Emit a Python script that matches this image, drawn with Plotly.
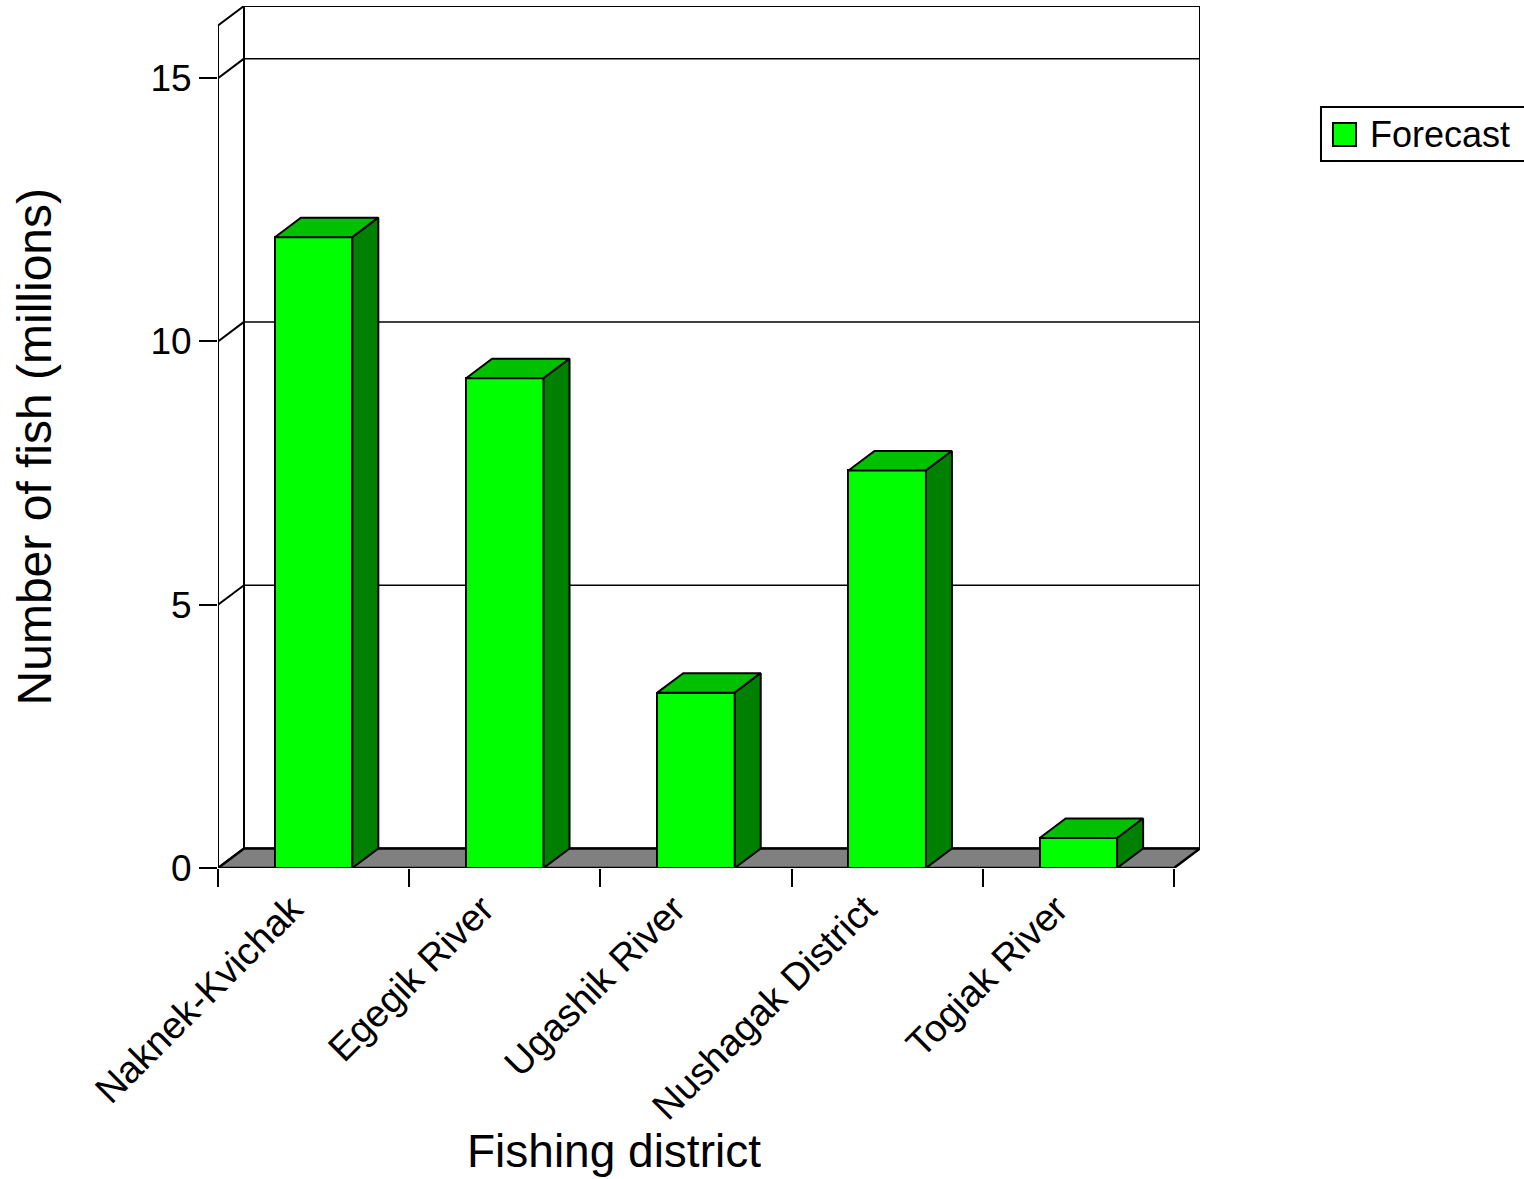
import plotly.graph_objects as go

# Forecast run sizes by Bristol Bay fishing district (millions of fish)
districts = ["Naknek-Kvichak", "Egegik River", "Ugashik River",
             "Nushagak District", "Togiak River"]
forecast = [11.98, 9.30, 3.33, 7.55, 0.57]
y_ticks = [0, 5, 10, 15]
series_name = "Forecast"

FONT = "Liberation Sans, Arial, sans-serif"
FRONT = "#00FF00"
TOP = "#00C000"
SIDE = "#008000"
FLOOR = "#808080"
EDGE = "black"

# pseudo-3D geometry in data units
n = len(districts)
bar_w = 0.405
dx = 0.136          # depth offset along x (category units)
dy = 0.371          # depth offset along y (value units)
y_top = 16.0
x_lo, x_hi = -0.5, n - 0.5

xs = list(range(n))

fig = go.Figure()

# front faces of the columns
fig.add_trace(go.Bar(
    x=xs, y=forecast, width=bar_w, base=0, name=series_name,
    marker=dict(color=FRONT, line=dict(color=EDGE, width=2)),
    showlegend=False, hoverinfo="x+y",
))

# top faces
tx, ty = [], []
for x, v in zip(xs, forecast):
    l, r = x - bar_w / 2, x + bar_w / 2
    tx += [l, r, r + dx, l + dx, l, None]
    ty += [v, v, v + dy, v + dy, v, None]
fig.add_trace(go.Scatter(
    x=tx, y=ty, mode="lines", fill="toself", fillcolor=TOP,
    line=dict(color=EDGE, width=2), showlegend=False, hoverinfo="skip",
))

# right-hand side faces
sx, sy = [], []
for x, v in zip(xs, forecast):
    r = x + bar_w / 2
    sx += [r, r, r + dx, r + dx, r, None]
    sy += [0, v, v + dy, dy, 0, None]
fig.add_trace(go.Scatter(
    x=sx, y=sy, mode="lines", fill="toself", fillcolor=SIDE,
    line=dict(color=EDGE, width=2), showlegend=False, hoverinfo="skip",
))

# walls, floor and gridlines behind the columns
def poly(pts):
    return "M " + " L ".join(f"{px},{py}" for px, py in pts) + " Z"

shapes = [
    # back wall
    dict(type="path", xref="x", yref="y", layer="below",
         path=poly([(x_lo + dx, dy), (x_hi + dx, dy),
                    (x_hi + dx, y_top + dy), (x_lo + dx, y_top + dy)]),
         fillcolor="white", line=dict(color=EDGE, width=2)),
    # side wall
    dict(type="path", xref="x", yref="y", layer="below",
         path=poly([(x_lo, 0), (x_lo, y_top),
                    (x_lo + dx, y_top + dy), (x_lo + dx, dy)]),
         fillcolor="white", line=dict(color=EDGE, width=2)),
]
for t in y_ticks[1:]:
    shapes.append(dict(type="line", xref="x", yref="y", layer="below",
                       x0=x_lo + dx, x1=x_hi + dx, y0=t + dy, y1=t + dy,
                       line=dict(color=EDGE, width=1.5)))
    shapes.append(dict(type="line", xref="x", yref="y", layer="below",
                       x0=x_lo, x1=x_lo + dx, y0=t, y1=t + dy,
                       line=dict(color=EDGE, width=2)))
# floor
shapes.append(dict(type="path", xref="x", yref="y", layer="below",
                   path=poly([(x_lo, 0), (x_hi, 0),
                              (x_hi + dx, dy), (x_lo + dx, dy)]),
                   fillcolor=FLOOR, line=dict(color=EDGE, width=2.5)))

# legend box with its swatch (paper coordinates)
shapes.append(dict(type="rect", xref="paper", yref="paper",
                   x0=1.1232, x1=1.34, y0=0.8202, y1=0.8828,
                   fillcolor="white", line=dict(color=EDGE, width=2)))
shapes.append(dict(type="rect", xref="paper", yref="paper",
                   x0=1.1354, x1=1.1589, y0=0.8376, y1=0.8643,
                   fillcolor=FRONT, line=dict(color=EDGE, width=2)))

x_range = [x_lo, x_hi + dx]
y_range = [0, y_top + dy]

fig.update_layout(
    width=1524, height=1179, autosize=False,
    margin=dict(l=218, r=324, t=6, b=311),
    paper_bgcolor="white", plot_bgcolor="white",
    font=dict(family=FONT, color="black"),
    shapes=shapes,
    bargap=0,
    showlegend=False,
    xaxis=dict(
        range=x_range, tickmode="array", tickvals=xs, ticktext=districts,
        tickangle=-45, ticks="", ticklabelstandoff=10, ticklabelshift=-22,
        tickfont=dict(size=38, family=FONT), showgrid=False, zeroline=False,
        showline=False, fixedrange=True,
    ),
    xaxis2=dict(
        range=x_range, overlaying="x", anchor="y", side="bottom",
        tickmode="array", tickvals=[i - 0.5 for i in range(n + 1)],
        ticks="outside", ticklen=18, tickwidth=2, tickcolor=EDGE,
        showticklabels=False, showgrid=False, zeroline=False, showline=False,
    ),
    yaxis=dict(
        range=y_range, tickmode="array", tickvals=y_ticks,
        ticks="outside", ticklen=18, tickwidth=2, tickcolor=EDGE,
        tickfont=dict(size=37, family=FONT), showgrid=False, zeroline=False,
        showline=False,
    ),
    annotations=[
        dict(text=series_name, xref="paper", yref="paper",
             x=1.1711, y=0.8515, xanchor="left", yanchor="middle",
             showarrow=False, font=dict(size=36, family=FONT)),
        dict(text="Fishing district", xref="paper", yref="paper",
             x=0.403, y=-0.328, xanchor="center", yanchor="middle",
             showarrow=False, font=dict(size=46, family=FONT)),
        dict(text="Number of fish (millions)", xref="paper", yref="paper",
             x=-0.1873, y=0.488, xanchor="center", yanchor="middle",
             textangle=-90, showarrow=False, font=dict(size=48, family=FONT)),
    ],
)

# empty trace that brings the boundary-tick axis into existence
fig.add_trace(go.Scatter(x=[None], y=[None], xaxis="x2", showlegend=False,
                         hoverinfo="skip"))

fig.write_html("out.html")
